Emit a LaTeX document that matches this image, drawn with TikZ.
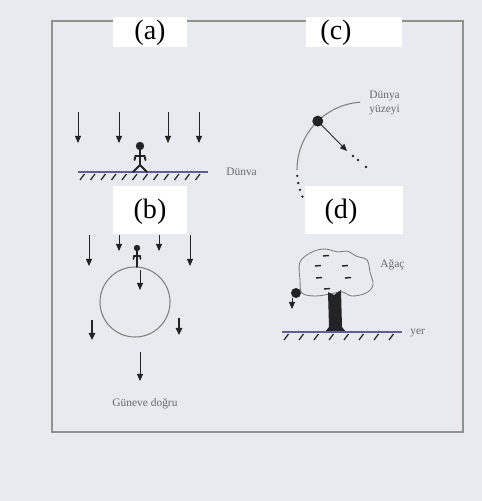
\documentclass[tikz,border=0pt]{standalone}
\usepackage{fontspec}
\setmainfont{Liberation Serif}
\usetikzlibrary{arrows.meta}

\definecolor{paper}{RGB}{233,234,240}
\definecolor{frameline}{RGB}{140,148,140}
\definecolor{notegray}{RGB}{105,105,112}
\definecolor{groundblue}{RGB}{95,95,150}
\definecolor{ink}{RGB}{35,35,38}

\begin{document}
\begin{tikzpicture}[x=0.02cm, y=-0.02cm,
  every node/.style={font=\small},
  tagbox/.style={rectangle, fill=white, inner sep=0pt,
    minimum height=0.6cm},
  tagtext/.style={font=\fontsize{16}{18}\selectfont, inner sep=0pt},
  note/.style={font=\fontsize{6.5}{7.5}\selectfont, text=notegray,
    align=left, inner sep=0pt},
  ray/.style={ink, line width=0.5pt, -{Triangle[length=4pt,width=3.4pt]}},
  fatray/.style={ink, line width=1.1pt, -{Triangle[length=4pt,width=3.6pt]}},
  ground/.style={groundblue, line width=0.8pt},
  hatch/.style={ink, line width=0.7pt},
  stick/.style={ink, line width=1.1pt, line cap=round},
  orbit/.style={gray, line width=0.6pt},
]

% paper and frame
\fill[paper] (0,0) rectangle (482,501);
\useasboundingbox (0,0) rectangle (482,501);
\draw[frameline, line width=0.6pt] (52,21) rectangle (463,432);

% panel tags
\node[tagbox, minimum width=1.48cm] (boxa) at (150,32) {};
\node[tagtext] (taga) at (150,33) {(a)};
\node[tagbox, minimum width=1.94cm] (boxc) at (354,32) {};
\node[tagtext] (tagc) at (336,33) {(c)};
\node[tagbox, minimum width=1.48cm, minimum height=0.98cm] (boxb) at (150,210) {};
\node[tagtext] (tagb) at (150,212) {(b)};
\node[tagbox, minimum width=1.96cm, minimum height=0.98cm] (boxd) at (354,210) {};
\node[tagtext] (tagd) at (341,212) {(d)};

% (a) flat ground under falling rays
\foreach \rx in {78,119,168,199}
  \draw[ray] (\rx,112) -- (\rx,143);
\draw[ground] (78,172) -- (208,172);
\foreach \hx in {82,92.5,...,205}
  \draw[hatch] (\hx+2.5,174) -- (\hx-2,180);
\fill[ink] (140,146) circle (4.2);
\draw[stick] (140,150) -- (140,165);
\draw[stick] (134.5,160) -- (135.5,156) -- (144.5,156) -- (145.5,160);
\draw[stick] (133,172) -- (140,165) -- (147,172);
\node[note, anchor=west] (duna) at (226,172) {Dünva};

% (b) round earth
\draw[orbit] (135,302) circle (35);
\draw[ray] (89,235) -- (89,266);
\draw[ray] (119,235) -- (119,251);
\draw[ray] (159,235) -- (159,251);
\draw[ray] (190,235) -- (190,266);
\fill[ink] (137,248) circle (3.2);
\draw[stick, line width=0.9pt] (137,251) -- (137,267);
\draw[stick, line width=0.9pt] (133.5,259) -- (134,256) -- (140,256) -- (140.5,259);
\draw[ray] (140,270) -- (140,290);
\draw[fatray] (92,320) -- (92,340);
\draw[fatray] (179,318) -- (179,335);
\draw[ray] (140,352) -- (140,381);
\node[note] (guneve) at (145,404) {Güneve doğru};

% (c) surface arc and the pull toward the centre
\coordinate (core) at (365,170);
\draw[orbit] (core) ++(266:68) arc (266:180:68);
\foreach \a in {175,169,163,157}
  \fill[ink] (core) ++(\a:68) circle (1.3);
\fill[ink] (core) ++(226:68) circle (5.5) coordinate (ballc);
\draw[ray] (ballc) -- (347,151);
\foreach \dx/\dy in {353/156,358/160,366/167}
  \fill[ink] (\dx,\dy) circle (1.3);
\node[note, anchor=west] (yuzey) at (369,103) {Dünya\\yüzeyi};

% (d) tree on the ground
\draw[gray, line width=0.5pt] plot[smooth cycle, tension=0.6] coordinates {
  (300,262) (312,252) (325,249) (338,252) (347,251) (356,256)
  (367,260) (370,272) (373,285) (366,293) (352,296) (342,292)
  (330,294) (315,296) (302,293) (300,280)};
\foreach \lx/\ly in {326/256,318/266,345/266,319/278,348/278,327/289}
  \draw[ink, line width=0.8pt] (\lx-3,\ly) -- (\lx+3,\ly-0.5);
\fill[ink] (328,292) -- (334,295) -- (341,290) -- (342,327)
  -- (346,332) -- (325,332) -- (329,327) -- cycle;
\fill[ink] (296,293) circle (5);
\draw[ray] (292,298) -- (292,309);
\draw[ground] (282,332) -- (402,332);
\foreach \hx in {286,301,...,400}
  \draw[hatch] (\hx+2.5,334) -- (\hx-2,340);
\node[note, anchor=west] (agac) at (380,265) {Ağaç};
\node[note, anchor=west] (yer) at (410,333) {yer};

\end{tikzpicture}
\end{document}
